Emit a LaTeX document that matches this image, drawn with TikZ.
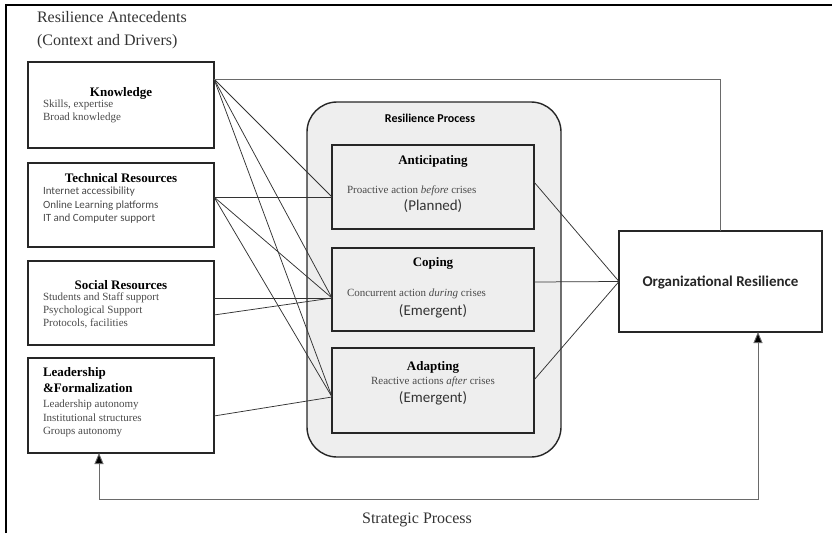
\documentclass[tikz,border=0pt]{standalone}
\usepackage{fontspec}
\setmainfont{Liberation Serif}
\newfontfamily\calibri{Carlito}
\usetikzlibrary{arrows.meta}
\definecolor{procgray}{HTML}{EEEEEE}
\definecolor{txtgray}{HTML}{4A4A4A}
\definecolor{linegray}{HTML}{333333}
\definecolor{loopgray}{HTML}{6A6A6A}
\newcommand{\ttlfont}{\fontsize{13}{16.5}\selectfont\bfseries}
\newcommand{\dscfont}[1]{\fontsize{11}{#1}\selectfont}
\newcommand{\bigfont}{\fontsize{16}{23}\selectfont}

\begin{document}
\begin{tikzpicture}[x=1pt,y=-1pt]
\tikzstyle{every node}=[inner sep=0pt, outer sep=0pt]
\tikzstyle{box}=[draw=black!85, line width=1.4pt]
\tikzstyle{innerbox}=[box, fill=procgray, minimum width=202pt]
\tikzstyle{desc}=[text=txtgray, align=left, anchor=north west]
\tikzstyle{link}=[draw=linegray, line width=0.75pt]
\useasboundingbox (0,0) rectangle (835,533);

% frame
\draw[line width=1.8pt] (6,533) -- (6,5) -- (832,5);
\node[desc, text=black!80, font=\bigfont] (ante) at (37,11) {Resilience Antecedents\\(Context and Drivers)};

% antecedents
\node[box, minimum width=186pt, minimum height=86pt] (know) at (121,105) {};
\node[font=\ttlfont] (knowt) at (121,93) {Knowledge};
\node[desc, font=\dscfont{12.5}] (knowd) at (43,100) {Skills, expertise\\Broad knowledge};

\node[box, minimum width=186pt, minimum height=84pt] (tech) at (121,205) {};
\node[font=\ttlfont] (techt) at (121,178) {Technical Resources};
\node[desc, font=\calibri\dscfont{13.5}] (techd) at (43,187) {Internet accessibility\\Online Learning platforms\\IT and Computer support};

\node[box, minimum width=186pt, minimum height=84pt] (soc) at (121,303) {};
\node[font=\ttlfont] (soct) at (121,285) {Social Resources};
\node[desc, font=\dscfont{12.8}] (socd) at (43,293) {Students and Staff support\\Psychological Support\\Protocols, facilities};

\node[box, minimum width=186pt, minimum height=95pt] (lead) at (121,405.5) {};
\node[desc, text=black, font=\ttlfont] (leadt) at (43,367) {Leadership\\\&Formalization};
\node[desc, font=\dscfont{13.5}] (leadd) at (43,400) {Leadership autonomy\\Institutional structures\\Groups autonomy};

% resilience process
\node[box, fill=procgray, rounded corners=30pt, minimum width=254pt, minimum height=355pt] (proc) at (434,279.5) {};
\node[font=\calibri\fontsize{12}{14}\selectfont\bfseries] (proct) at (430,118) {Resilience Process};

\node[innerbox, minimum height=84pt] (ant) at (433,187) {};
\node[font=\ttlfont] (antt) at (433,161) {Anticipating};
\node[anchor=west, text=txtgray, font=\dscfont{13}] (antd) at (347,191) {Proactive action \textit{before} crises};
\node[text=black!80, font=\calibri\fontsize{15}{17}\selectfont] (antp) at (433,206) {(Planned)};

\node[innerbox, minimum height=83pt] (cop) at (433,289.5) {};
\node[font=\ttlfont] (copt) at (433,263) {Coping};
\node[anchor=west, text=txtgray, font=\dscfont{13}] (copd) at (347,294) {Concurrent action \textit{during} crises};
\node[text=black!80, font=\calibri\fontsize{15}{17}\selectfont] (copp) at (433,311) {(Emergent)};

\node[innerbox, minimum height=85pt] (adp) at (433,390.5) {};
\node[font=\ttlfont] (adpt) at (433,367) {Adapting};
\node[text=txtgray, font=\dscfont{13}] (adpd) at (433,382) {Reactive actions \textit{after} crises};
\node[text=black!80, font=\calibri\fontsize{15}{17}\selectfont] (adpp) at (433,398) {(Emergent)};

% outcome
\node[box, minimum width=203pt, minimum height=101pt] (org) at (720.5,281.5) {};
\node[font=\calibri\fontsize{15}{17}\selectfont\bfseries, text=black!85] (orgt) at (720.5,282) {Organizational Resilience};

% connector ends
\coordinate (k1) at ([yshift=-17pt]know.north east);
\coordinate (t1) at ([yshift=8pt]tech.east);
\coordinate (s1) at ([yshift=5pt]soc.east);
\coordinate (s2) at ([yshift=-12pt]soc.east);
\coordinate (l1) at ([yshift=-10.5pt]lead.east);
\coordinate (ain) at ([yshift=-10pt]ant.west);
\coordinate (cin) at ([yshift=-8.5pt]cop.west);
\coordinate (din) at ([yshift=-6.5pt]adp.west);
\coordinate (aout) at ([yshift=5pt]ant.east);
\coordinate (cout) at ([yshift=7.5pt]cop.east);
\coordinate (dout) at ([yshift=10.5pt]adp.east);
\coordinate (lb) at ([xshift=71pt]lead.south west);
\coordinate (ob) at ([xshift=-64pt]org.south east);

% links
\foreach \a in {k1,t1}
  \foreach \b in {ain,cin,din}
    \draw[link] (\a) -- (\b);
\draw[link] (s1) -- (cin);
\draw[link] (s2) -- (cin);
\draw[link] (l1) -- (din);
\foreach \b in {aout,cout,dout}
  \draw[link] (\b) -- (org.west);

% feedback loops
\draw[draw=loopgray, line width=0.9pt] (k1) -| (org.north);
\draw[draw=loopgray, line width=0.9pt, {Triangle[length=11pt,width=9pt,fill=black]}-{Triangle[length=11pt,width=9pt,fill=black]}] (lb) -- ++(0,46) -| (ob);
\node[text=black!80, font=\bigfont] (strat) at (417,520) {Strategic Process};

\end{tikzpicture}
\end{document}
